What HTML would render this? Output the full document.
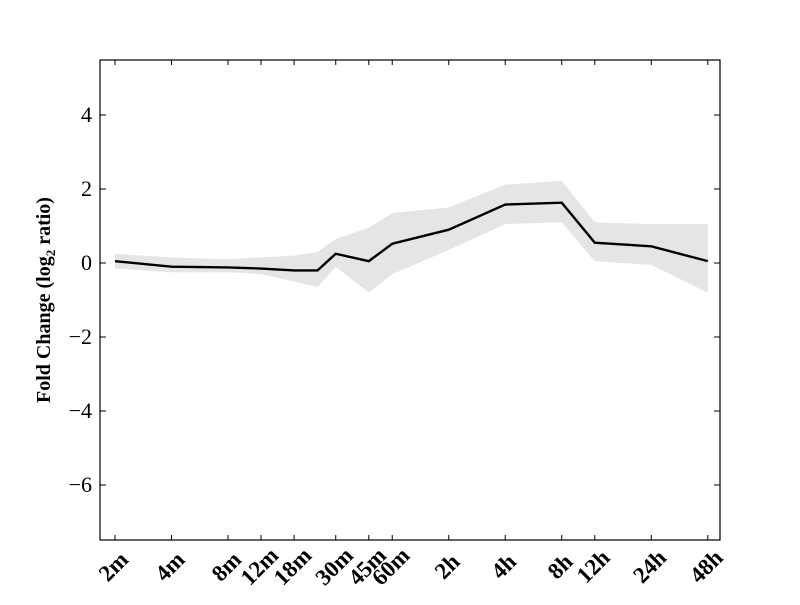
<!DOCTYPE html>
<html><head><meta charset="utf-8"><style>
body{margin:0;background:#fff;}
svg text{font-family:"Liberation Serif",serif;}
</style></head><body>
<svg width="800" height="600">
<rect width="800" height="600" fill="#fff"/>
<g id="band"></g>
<g id="line"></g>
<rect x="100" y="60" width="620" height="480" fill="none" stroke="#000" stroke-width="1.2"/>
<g id="ticks"></g>
<text transform="translate(50,300) rotate(-90)" text-anchor="middle" font-size="20" font-weight="bold">Fold Change (log<tspan font-size="13" dy="5">2</tspan><tspan dy="-5"> ratio)</tspan></text>
</svg>
<script>
const timesMin = [2,4,8,12,18,24,30,45,60,120,240,480,720,1440,2880];
const meanVals = [0.05,-0.1,-0.12,-0.15,-0.2,-0.2,0.25,0.05,0.52,0.9,1.58,1.63,0.55,0.45,0.05];
const upperVals = [0.25,0.15,0.1,0.15,0.2,0.3,0.65,0.95,1.35,1.5,2.12,2.22,1.1,1.05,1.05];
const lowerVals = [-0.15,-0.25,-0.25,-0.3,-0.5,-0.65,-0.1,-0.8,-0.3,0.35,1.05,1.1,0.05,-0.05,-0.8];
const tickTimes = [2,4,8,12,18,30,45,60,120,240,480,720,1440,2880];
const tickLabels = ["2m","4m","8m","12m","18m","30m","45m","60m","2h","4h","8h","12h","24h","48h"];
const yTicks = [4,2,0,-2,-4,-6];
const yLabels = ["4","2","0","\u22122","\u22124","\u22126"];
const NS="http://www.w3.org/2000/svg";
const xs = t => 115 + 56.5*Math.log2(t/2);
const ys = v => 263 - 37*v;
function mk(tag, attrs, parent){const e=document.createElementNS(NS,tag);for(const k in attrs)e.setAttribute(k,attrs[k]);parent.appendChild(e);return e;}
let up = timesMin.map((t,i)=>xs(t)+","+ys(upperVals[i]));
let lo = timesMin.map((t,i)=>xs(t)+","+ys(lowerVals[i])).reverse();
const band = mk("polygon",{points:up.concat(lo).join(" "),fill:"#e5e5e5",stroke:"none"},document.getElementById("band"));


const ln = mk("polyline",{points:timesMin.map((t,i)=>xs(t)+","+ys(meanVals[i])).join(" "),fill:"none",stroke:"#000","stroke-width":2.4},document.getElementById("line"));


const tg=document.getElementById("ticks");
tickTimes.forEach((t,i)=>{
  const x=xs(t);
  mk("line",{x1:x,x2:x,y1:540,y2:535,stroke:"#000"},tg);
  mk("line",{x1:x,x2:x,y1:60,y2:65,stroke:"#000"},tg);
  const tx=mk("text",{transform:`translate(${x},${568}) rotate(-45)`,"text-anchor":"middle","font-size":23,"font-weight":"bold","dominant-baseline":"middle"},tg);
  tx.textContent=tickLabels[i];
  
  
});
yTicks.forEach((v,i)=>{
  const y=ys(v);
  mk("line",{x1:100,x2:106,y1:y,y2:y,stroke:"#000"},tg);
  mk("line",{x1:720,x2:714,y1:y,y2:y,stroke:"#000"},tg);
  const tx=mk("text",{x:92,y:y+7,"text-anchor":"end","font-size":22},tg);
  tx.textContent=yLabels[i];
  
  
});
</script>
</body></html>
